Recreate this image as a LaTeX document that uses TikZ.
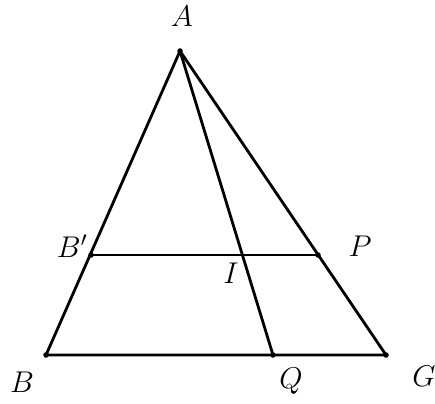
\RequirePackage{fix-cm}
\documentclass[tikz,border=0pt]{standalone}
\begin{document}
\begin{tikzpicture}[x=1pt,y=-1pt,
  seg/.style={line width=2.8pt},
  pt/.style={circle,fill=black,inner sep=0pt,minimum size=5.5pt},
  lbl/.style={font=\fontsize{30}{34}\selectfont}]
\useasboundingbox (0,0) rectangle (435,403);
\node[pt] (A) at (180,51) {};
\node[pt] (B) at (46,355) {};
\node[pt] (G) at (386,355) {};
\node[pt] (Bp) at (91,255) {};
\node[pt] (P) at (318,255) {};
\node[pt] (Q) at (273,355) {};
\draw[seg,line join=round] (A.center) -- (B.center) -- (G.center) -- cycle;
\draw[seg] (Bp.center) -- (P.center);
\draw[seg] (A.center) -- (Q.center);
\coordinate (I) at (intersection of A--Q and Bp--P);
\node[lbl] (lA) at (182,16) {$A$};
\node[lbl] (lB) at (22,382) {$B$};
\node[lbl] (lG) at (424,376) {$G$};
\node[lbl] (lBp) at (72,246) {$B'$};
\node[lbl] (lP) at (360,246) {$P$};
\node[lbl] (lI) at (231,273) {$I$};
\node[lbl] (lQ) at (291,381) {$Q$};
\end{tikzpicture}
\end{document}
